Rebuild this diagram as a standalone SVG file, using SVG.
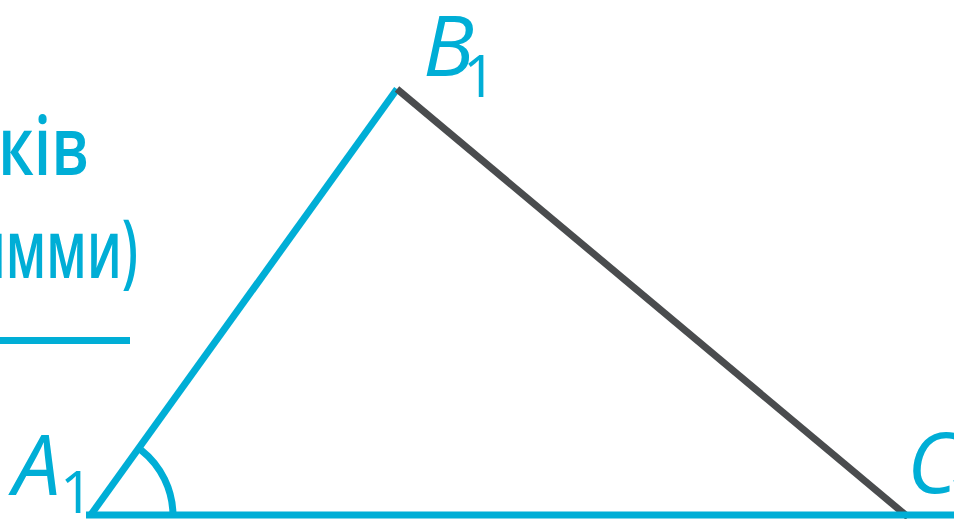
<svg xmlns="http://www.w3.org/2000/svg" width="954" height="519" viewBox="0 0 954 519">
<style>
.t{font-family:"Open Sans","Noto Sans",sans-serif;fill:#00AED6;font-weight:600;font-size:82px}
.lbl{font-family:"Open Sans","Noto Sans",sans-serif;fill:#00AED6;font-style:italic;font-size:85px}
.sub{font-family:"Open Sans","Noto Sans",sans-serif;fill:#00AED6;font-size:58px}
.c{stroke:#00AED6;stroke-width:7;fill:none}
.d{stroke:#4A4C4E;stroke-width:7;fill:none}
</style>
<rect width="954" height="519" fill="#fff"/>
<g id="caption">
<text class="t" x="-2" y="175" textLength="91" lengthAdjust="spacingAndGlyphs">ків</text>
<text class="t" x="-29" y="278" textLength="167" lengthAdjust="spacingAndGlyphs">имми)</text>
<line x1="0" y1="340.5" x2="130" y2="340.5" class="c"/>
</g>
<g id="connectors">
<line x1="90" y1="516" x2="397" y2="89" class="c"/>
<line x1="397" y1="89" x2="908" y2="517" class="d"/>
<line x1="86" y1="515" x2="954" y2="515" class="c"/>
<path d="M173,516 A84,84 0 0 0 141,450" class="c" stroke-width="4"/>
</g>
<g id="A1"><text class="lbl" x="13" y="495">A</text><text class="sub" x="60" y="513">1</text></g>
<g id="B1"><text class="lbl" x="423" y="76">B</text><text class="sub" x="463" y="97">1</text></g>
<g id="C1"><text class="lbl" x="907" y="493">C</text><text class="sub" x="948" y="514">1</text></g>
</svg>
